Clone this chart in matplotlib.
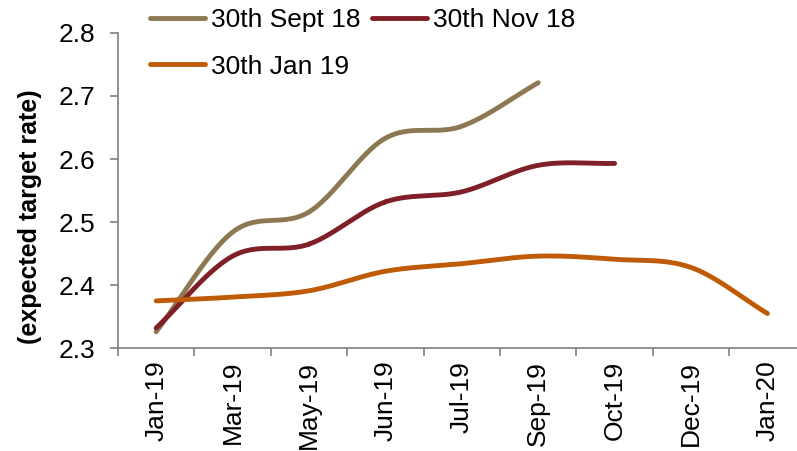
import numpy as np
import matplotlib.pyplot as plt

plt.rcParams['font.family'] = ['Liberation Sans', 'DejaVu Sans']

months = ["Jan-19", "Mar-19", "May-19", "Jun-19", "Jul-19",
          "Sep-19", "Oct-19", "Dec-19", "Jan-20"]
sept18 = [2.326, 2.484, 2.516, 2.633, 2.652, 2.721]
nov18 = [2.332, 2.446, 2.465, 2.532, 2.548, 2.590, 2.593]
jan19 = [2.375, 2.381, 2.391, 2.422, 2.434, 2.446, 2.441, 2.428, 2.355]

names = ["30th Sept 18", "30th Nov 18", "30th Jan 19"]
colors = ["#8C7853", "#7F1F27", "#BF5B04"]


def smooth(y, n=30):
    # catmull-rom through the points, like excel's smoothed line
    y = np.asarray(y, dtype=float)
    x = np.arange(len(y), dtype=float)
    px = np.concatenate([[2 * x[0] - x[1]], x, [2 * x[-1] - x[-2]]])
    py = np.concatenate([[2 * y[0] - y[1]], y, [2 * y[-1] - y[-2]]])
    xs, ys = [], []
    t = np.linspace(0, 1, n)
    for i in range(1, len(px) - 2):
        for p, out in ((px, xs), (py, ys)):
            p0, p1, p2, p3 = p[i - 1], p[i], p[i + 1], p[i + 2]
            out.append(0.5 * ((2 * p1) + (-p0 + p2) * t
                              + (2 * p0 - 5 * p1 + 4 * p2 - p3) * t ** 2
                              + (-p0 + 3 * p1 - 3 * p2 + p3) * t ** 3))
    return np.concatenate(xs), np.concatenate(ys)


fig = plt.figure(figsize=(7.97, 4.51), dpi=100)
ax = fig.add_axes([0.148, 0.228, 0.852, 0.699])

lines = []
for vals, name, c in zip([sept18, nov18, jan19], names, colors):
    sx, sy = smooth(vals)
    ln, = ax.plot(sx, sy, color=c, lw=3.5, solid_capstyle='round', label=name)
    lines.append(ln)

ax.set_xlim(-0.5, 8.387)
ax.set_ylim(2.3, 2.8)
ax.set_yticks([2.3, 2.4, 2.5, 2.6, 2.7, 2.8])
ax.set_yticklabels(["2.3", "2.4", "2.5", "2.6", "2.7", "2.8"])

ax.set_xticks(np.arange(-0.5, 8.5, 1.0))
ax.set_xticklabels([])
ax.set_xticks(np.arange(len(months)), minor=True)
ax.set_xticklabels(months, minor=True, rotation=90, fontsize=19)
ax.tick_params(axis='x', which='minor', length=0, pad=9)
ax.tick_params(axis='x', which='major', length=6, color='#808080', width=1.2)
ax.tick_params(axis='y', length=6, color='#808080', width=1.2, labelsize=19, pad=10)

for s in ['top', 'right']:
    ax.spines[s].set_visible(False)
for s in ['left', 'bottom']:
    ax.spines[s].set_color('#808080')
    ax.spines[s].set_linewidth(1.2)

fig.text(0.038, 0.52, "(expected target rate)", rotation=90, fontsize=18,
         fontweight='bold', ha='center', va='center')

leg = fig.legend([lines[0], lines[2], lines[1]], [names[0], names[2], names[1]],
                 ncol=2, frameon=False, fontsize=19, loc='upper left',
                 bbox_to_anchor=(0.188, 0.982), borderaxespad=0, borderpad=0,
                 handlelength=2.1, handletextpad=0.2, columnspacing=0.45,
                 labelspacing=0.85)

fig.savefig("out.png", dpi=100)
